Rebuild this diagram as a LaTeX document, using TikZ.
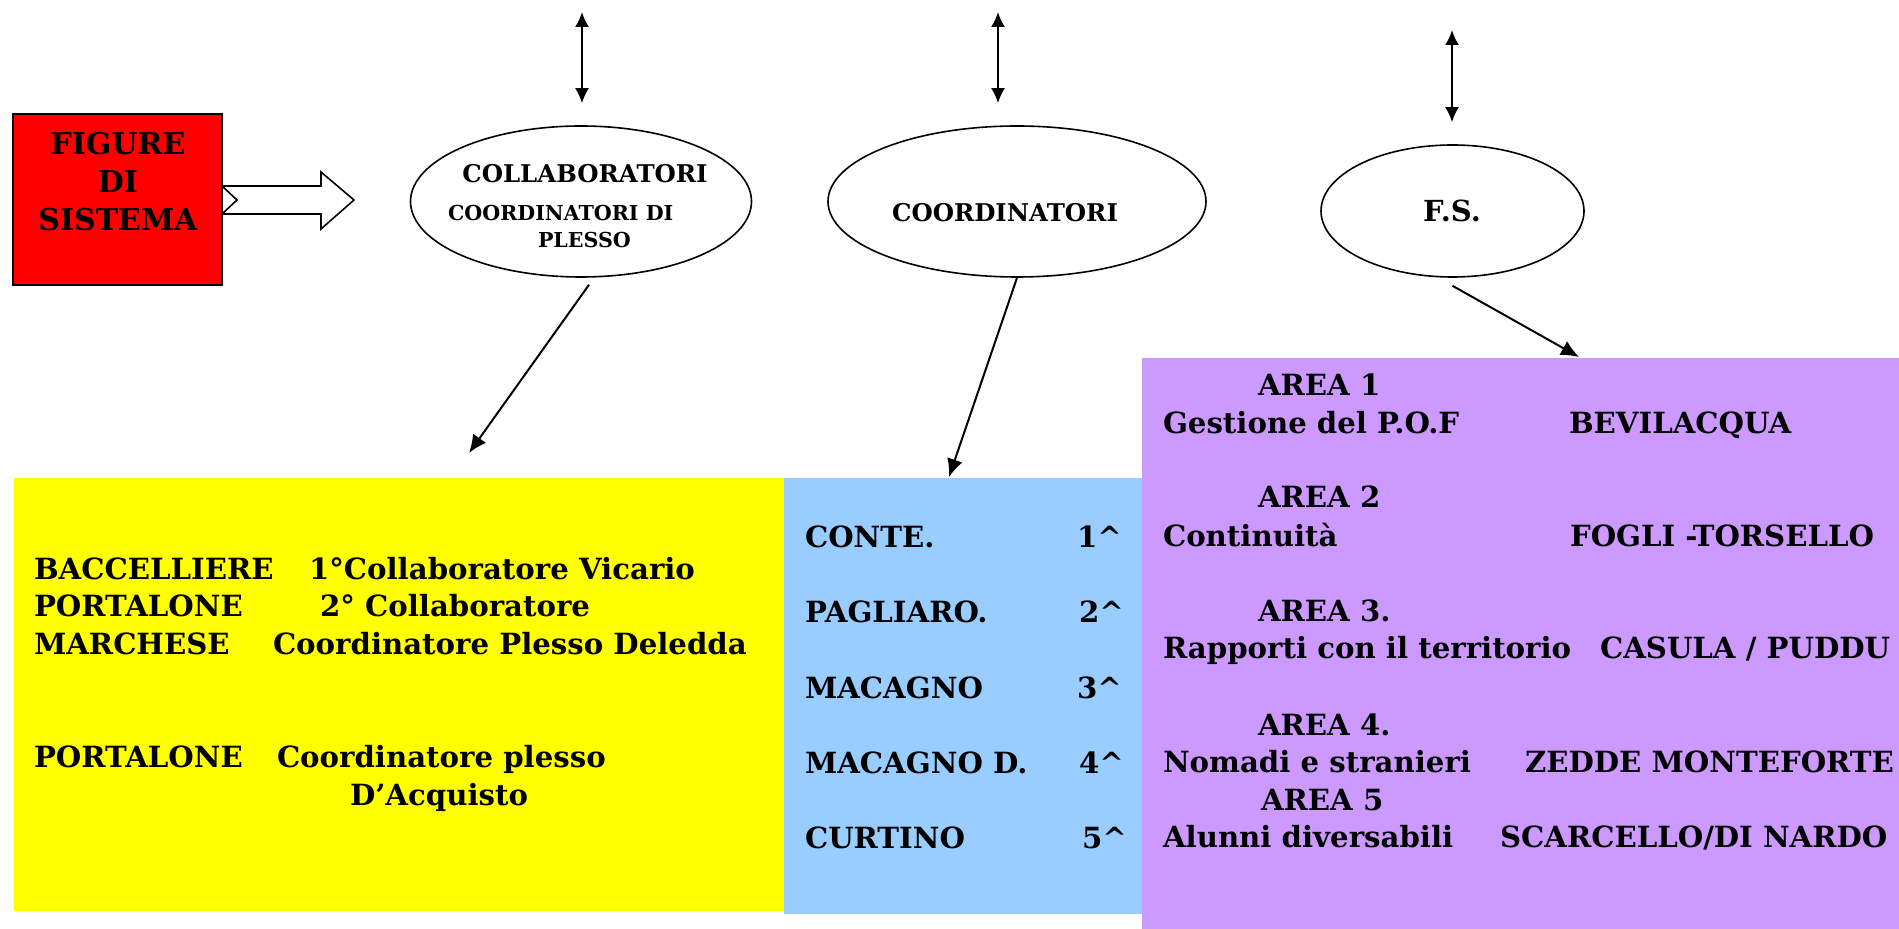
\documentclass[tikz,border=0pt]{standalone}
\usepackage{fontspec}
\setmainfont{DejaVu Serif}
\usetikzlibrary{arrows.meta,shapes.geometric,positioning}

\begin{document}
\begin{tikzpicture}[x=0.5pt, y=-0.5pt, >={Latex[length=7.5pt,width=7pt]}, line width=1pt,
                area/.style={inner sep=0, anchor=north west},
                oval/.style={ellipse, draw, line width=0.8pt, inner sep=0},
                big/.style={inner sep=0, anchor=base, font=\bfseries\fontsize{15}{18}\selectfont},
                head/.style={inner sep=0, anchor=base, font=\bfseries\fontsize{12.2}{14}\selectfont},
                small/.style={inner sep=0, anchor=base west, font=\bfseries\fontsize{10.3}{12}\selectfont},
                txt/.style={inner sep=0, anchor=base west, font=\bfseries\fontsize{14.6}{17}\selectfont}]
  \useasboundingbox (0,0) rectangle (1899,929);

  % boxes
  \node[draw, fill=red, minimum width=104.5pt, minimum height=85.5pt] (fig) at (117.5,199.5) {};
  \node[area, fill={rgb,255:red,255;green,255;blue,0}, minimum width=385pt, minimum height=216.5pt] (yel) at (13,477) {};
  \node[area, fill={rgb,255:red,153;green,204;blue,255}, minimum width=179pt, minimum height=218pt] (blu) at (783,477) {};
  \node[area, fill={rgb,255:red,204;green,153;blue,255}, minimum width=379pt, minimum height=286pt] (vio) at (1141,357) {};

  \node[big] (f1) at (118,155) {FIGURE};
  \node[big] (f2) at (118,193) {DI};
  \node[big] (f3) at (118,231) {SISTEMA};

  % ellipses
  \node[oval, minimum width=170.5pt, minimum height=75.5pt] (coll) at (581,201.5) {};
  \node[oval, minimum width=189pt, minimum height=75.5pt] (coord) at (1017,201.5) {};
  \node[oval, minimum width=131.5pt, minimum height=66pt] (fs) at (1452.5,211) {};

  \node[head] (c1) at (585,183) {COLLABORATORI};
  \node[small] (c2) at (447,221) {COORDINATORI DI};
  \node[small] (c3) at (537,248) {PLESSO};
  \node[head] (c4) at (1005,222) {COORDINATORI};
  \node[head, font=\bfseries\fontsize{14.5}{17}\selectfont] (c5) at (1452,222) {F.S.};

  % hollow arrow
  \draw[line width=0.8pt, fill=white] (222,186) -- (321,186) -- (321,172) -- (354,200)
    -- (321,229) -- (321,214) -- (222,214) -- (237,200) -- cycle;

  % yellow
  \node[txt] (y1) at (33,580) {BACCELLIERE};
  \node[txt] (y2) at (308,580) {1°Collaboratore Vicario};
  \node[txt] (y3) at (33,617) {PORTALONE};
  \node[txt] (y4) at (319,617) {2° Collaboratore};
  \node[txt] (y5) at (33,654) {MARCHESE};
  \node[txt] (y6) at (272,654) {Coordinatore Plesso Deledda};
  \node[txt] (y7) at (33,767) {PORTALONE};
  \node[txt] (y8) at (276,767) {Coordinatore plesso};
  \node[txt] (y9) at (349,805) {D’Acquisto};

  % blue
  \node[txt] (b1) at (804,548) {CONTE.};
  \node[txt] (n1) at (1076,548) {1\textasciicircum};
  \node[txt] (b2) at (804,623) {PAGLIARO.};
  \node[txt] (n2) at (1078,623) {2\textasciicircum};
  \node[txt] (b3) at (804,698) {MACAGNO};
  \node[txt] (n3) at (1076,698) {3\textasciicircum};
  \node[txt] (b4) at (804,773) {MACAGNO D.};
  \node[txt] (n4) at (1078,773) {4\textasciicircum};
  \node[txt] (b5) at (804,848) {CURTINO};
  \node[txt] (n5) at (1081,848) {5\textasciicircum};

  % purple
  \node[txt] (a1) at (1257,396) {AREA 1};
  \node[txt] (g1) at (1162,434) {Gestione del P.O.F};
  \node[txt] (p1) at (1568,434) {BEVILACQUA};
  \node[txt] (a2) at (1257,508) {AREA 2};
  \node[txt] (g2) at (1162,547) {Continuità};
  \node[txt] (p2) at (1569,547) {FOGLI -TORSELLO};
  \node[txt] (a3) at (1257,622) {AREA 3.};
  \node[txt] (g3) at (1162,659) {Rapporti con il territorio};
  \node[txt] (p3) at (1599,659) {CASULA / PUDDU};
  \node[txt] (a4) at (1257,735) {AREA 4.};
  \node[txt] (g4) at (1162,772) {Nomadi e stranieri};
  \node[txt] (p4) at (1524,772) {ZEDDE MONTEFORTE};
  \node[txt] (a5) at (1260,810) {AREA 5};
  \node[txt] (g5) at (1162,847) {Alunni diversabili};
  \node[txt] (p5) at (1499,847) {SCARCELLO/DI NARDO};

  % connectors
  \coordinate (t1) at (582,12);
  \coordinate (t2) at (998,12);
  \coordinate (t3) at (1452,30);
  \coordinate (e1) at (469,453);

  \path[<->]
    (t1) edge [shorten >=11pt] (t1 |- coll.north)
    (t2) edge [shorten >=11pt] (t2 |- coord.north)
    (t3) edge [shorten >=11pt] (t3 |- fs.north);
  \path[-{Latex[length=9pt,width=8pt]}]
    ([xshift=4pt,yshift=-3.5pt]coll.south) edge (e1)
    (coord.south) edge ([xshift=83pt]blu.north west)
    ([yshift=-4pt]fs.south) edge ([xshift=219pt]vio.north west);
\end{tikzpicture}
\end{document}
